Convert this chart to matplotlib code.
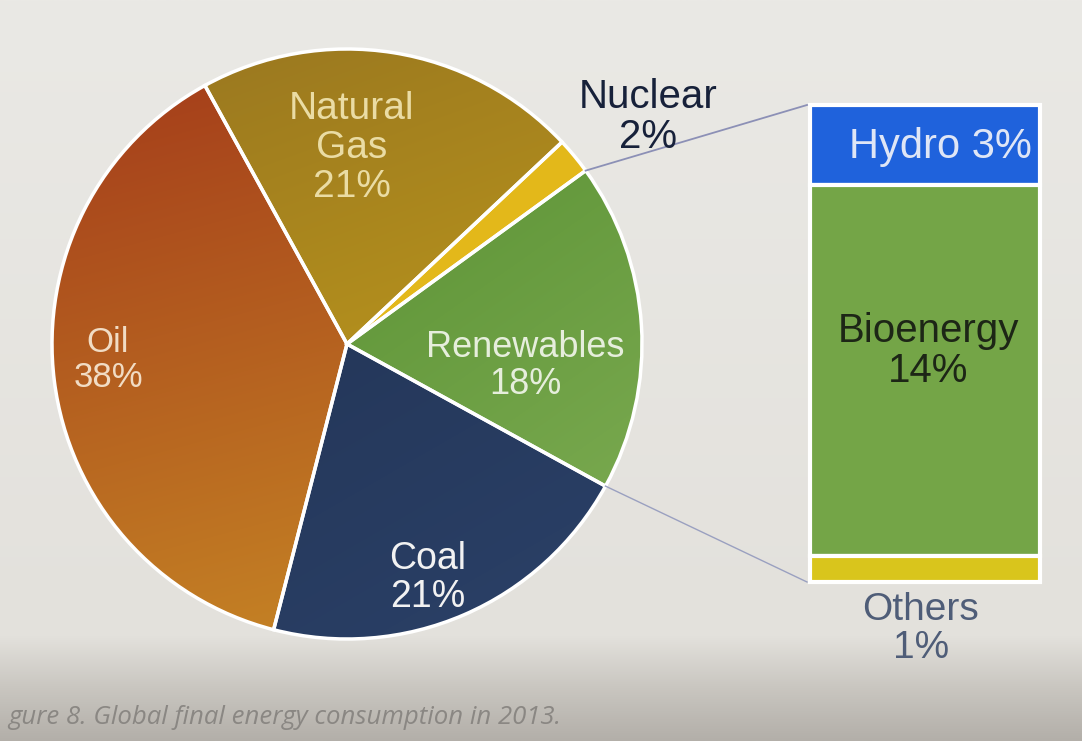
import numpy as np
import matplotlib.pyplot as plt
from matplotlib.colors import to_rgb

# Pie data (global final energy consumption 2013, %)
sources = ['Renewables', 'Coal', 'Oil', 'Natural\nGas', 'Nuclear']
shares = [18, 21, 38, 21, 2]
pie_colors = ['#62962f', '#263a5f', '#b8621f', '#ad8a1e', '#e3b81a']

# Breakdown of renewables
ren_parts = ['Hydro', 'Bioenergy', 'Others']
ren_shares = [3, 14, 1]
ren_colors = ['#1f62dc', '#74a547', '#d9c51c']

W, H = 1082, 741
cx, cy, r = 347, 397, 295

fig = plt.figure(figsize=(W / 100, H / 100), dpi=100)
ax = fig.add_axes([0, 0, 1, 1])


def gradient(c1, c2, angle, n=200):
    xs = np.linspace(-1, 1, n)
    X, Y = np.meshgrid(xs, xs)
    a = np.deg2rad(angle)
    t = X * np.cos(a) + Y * np.sin(a)
    t = (t - t.min()) / (t.max() - t.min())
    return (1 - t)[..., None] * np.array(to_rgb(c1)) + t[..., None] * np.array(to_rgb(c2))


# photo-like background
bg = np.linspace(0, 1, 300)
bgcol = np.array([np.interp(bg, [0, 0.86, 0.93, 1], [to_rgb(c)[i] for c in
                  ['#eae9e5', '#e3e1dc', '#c9c6c0', '#b3afa9']]) for i in range(3)]).T
ax.imshow(bgcol[:, None, :].repeat(2, axis=1), extent=[0, W, 0, H], aspect='auto', zorder=0)

wedges, _ = ax.pie(shares, colors=pie_colors, startangle=36, counterclock=False,
                   center=(cx, cy), radius=r, frame=True,
                   wedgeprops=dict(edgecolor='none', zorder=2))

# shading of the slices
grads = {0: ('#4c8727', '#80ae55', -55), 2: ('#a3391a', '#c98c26', -75),
         3: ('#977520', '#cda71a', -70), 1: ('#1f2f4e', '#2b4168', -60)}
for i, (c1, c2, ang) in grads.items():
    im = ax.imshow(gradient(c1, c2, ang), extent=[cx - r, cx + r, cy - r, cy + r],
                   origin='lower', interpolation='bilinear', zorder=3)
    im.set_clip_path(wedges[i])

# white separators on top
ax.pie(shares, colors=['none'] * len(shares), startangle=36, counterclock=False,
       center=(cx, cy), radius=r, frame=True,
       wedgeprops=dict(edgecolor='white', linewidth=2.5, zorder=4))

# stacked bar for renewables
bx, bw, btop = 810, 230, H - 105
scale = 26.5
bottoms = btop - np.cumsum(ren_shares) * scale
ax.bar([bx + bw / 2] * 3, np.array(ren_shares) * scale, bottom=bottoms, width=bw,
       color=ren_colors, edgecolor='white', linewidth=3, zorder=3)

# connector lines
a_top = np.deg2rad(36)
a_bot = np.deg2rad(36 - shares[0] * 3.6)
ax.plot([cx + r * np.cos(a_top), bx - 3], [cy + r * np.sin(a_top), btop],
        color='#8c90b6', lw=1.3, zorder=5)
ax.plot([cx + r * np.cos(a_bot), bx - 3], [cy + r * np.sin(a_bot), bottoms[-1]],
        color='#9aa0c0', lw=1.0, zorder=5)

font = ['Liberation Sans', 'DejaVu Sans']
kw = dict(ha='center', va='center', family=font, linespacing=1.1, zorder=6)
ax.text(352, H - 148, f'{sources[3]}\n{shares[3]}%', fontsize=28, color='#eadca4', **kw)
ax.text(108, H - 360, f'{sources[2]}\n{shares[2]}%', fontsize=25, color='#f1dcc4', **kw)
ax.text(525, H - 366, f'{sources[0]}\n{shares[0]}%', fontsize=26, color='#e6eedc', **kw)
ax.text(428, H - 578, f'{sources[1]}\n{shares[1]}%', fontsize=27, color='#f2f2f2', **kw)
ax.text(648, H - 117, f'{sources[4]}\n{shares[4]}%', fontsize=29, color='#17213a', **kw)

ax.text(bx + bw / 2 + 15, btop - ren_shares[0] * scale / 2 - 2,
        f'{ren_parts[0]} {ren_shares[0]}%', fontsize=30, color='#dfe6f6', **kw)
ax.text(bx + bw / 2 + 3, H - 351, f'{ren_parts[1]}\n{ren_shares[1]}%',
        fontsize=29, color='#1d2616', **kw)
ax.text(bx + bw / 2 - 4, H - 629, f'{ren_parts[2]}\n{ren_shares[2]}%',
        fontsize=28, color='#4f5d78', **kw)

ax.text(8, H - 718, 'gure 8. Global final energy consumption in 2013.',
        fontsize=18.5, style='italic', color='#8a8783', ha='left', va='center',
        family=['Open Sans', 'DejaVu Sans'], zorder=6)

ax.set_xlim(0, W)
ax.set_ylim(0, H)
ax.set_aspect('auto')
ax.axis('off')

fig.savefig('out.png', dpi=100)
